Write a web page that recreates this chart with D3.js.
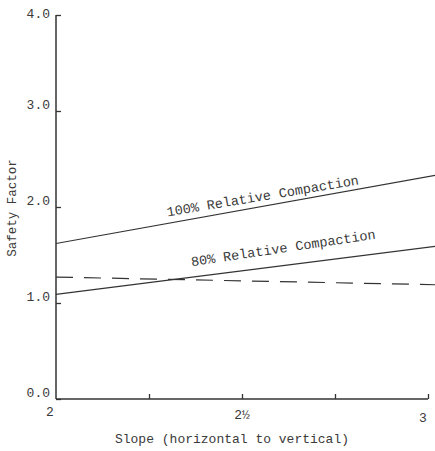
<!DOCTYPE html>
<html><head><meta charset="utf-8">
<script src="https://cdn.jsdelivr.net/npm/d3@7"></script>
<style>
body{margin:0;background:#fff;}
text{font-family:"Liberation Mono","DejaVu Sans Mono",monospace;fill:#3a3a3a;}
</style></head>
<body><svg id="c" width="435" height="451"></svg>
<script>
const slopes = [2.0, 3.02];
const compaction100 = [1.62, 2.33];
const compaction80 = [1.09, 1.59];
const requiredFS = [1.27, 1.19];
const yTicks = [0, 1, 2, 3, 4];
const yTickLabels = ["0.0", "1.0", "2.0", "3.0", "4.0"];
const xTicks = [2, 2.25, 2.5, 2.75, 3];
const xTickLabels = {2: "2", 2.5: "2½", 3: "3"};
const seriesLabels = ["100% Relative Compaction", "80% Relative Compaction"];

const svg = d3.select("#c");
const x = d3.scaleLinear().domain([2, 3]).range([56, 428]);
const y = d3.scaleLinear().domain([0, 4]).range([399, 15]);
const stroke = "#333";

// y axis
const yAxis = d3.axisRight(y).tickValues(yTicks).tickSize(5).tickFormat("");
const ga = svg.append("g").attr("transform", `translate(${x(2)},0)`).call(yAxis);
ga.select(".domain").attr("d", `M0,${y(4)}V${y(0)}`).attr("stroke", stroke).attr("stroke-width", 1.5);
ga.selectAll(".tick line").attr("stroke", stroke).attr("stroke-width", 1.3);
svg.append("g").selectAll("text").data(yTicks).join("text")
  .attr("x", 50).attr("y", d => y(d) - (d === 4 ? 1 : 6)).attr("text-anchor", "end")
  .attr("dominant-baseline", "central").attr("font-size", 13)
  .text((d, i) => yTickLabels[i]);

// x axis
const xAxis = d3.axisTop(x).tickValues(xTicks).tickSize(5).tickFormat("");
const gx = svg.append("g").attr("transform", `translate(0,${y(0)})`).call(xAxis);
gx.select(".domain").attr("d", `M${x(2)},0H${x(3)}`).attr("stroke", stroke).attr("stroke-width", 1.5);
gx.selectAll(".tick line").attr("stroke", stroke).attr("stroke-width", 1.3);
gx.selectAll(".tick").filter(d => d === 2).select("line").remove();
svg.append("g").selectAll("text").data(xTicks.filter(d => xTickLabels[d])).join("text")
  .attr("x", d => x(d) - (d === 2 ? 6 : d === 3 ? 5 : 0))
  .attr("y", d => y(0) + 17 + (d - 2) * 6)
  .attr("text-anchor", "middle").attr("font-size", 13)
  .text(d => xTickLabels[d]);

svg.append("text").attr("x", 232).attr("y", 443).attr("text-anchor", "middle")
  .attr("font-size", 13).text("Slope (horizontal to vertical)");
svg.append("text").attr("transform", "translate(13,208) rotate(-90)")
  .attr("text-anchor", "middle").attr("dominant-baseline", "central")
  .attr("font-size", 12.5).text("Safety Factor");

// lines
const line = d3.line().x((d, i) => x(slopes[i])).y(d => y(d));
svg.append("path").datum(compaction100).attr("d", line).attr("fill", "none")
  .attr("stroke", stroke).attr("stroke-width", 1.2);
svg.append("path").datum(compaction80).attr("d", line).attr("fill", "none")
  .attr("stroke", stroke).attr("stroke-width", 1.2);
svg.append("path").datum(requiredFS).attr("d", line).attr("fill", "none")
  .attr("stroke", stroke).attr("stroke-width", 1.2).attr("stroke-dasharray", "17,11");

// line labels
function lab(txt, sx, val, dy, ang) {
  svg.append("text")
    .attr("transform", `translate(${x(sx)},${y(val) + dy}) rotate(${ang})`)
    .attr("font-size", 13.5).text(txt);
}
const interp = (arr, s) => arr[0] + (arr[1] - arr[0]) * (s - slopes[0]) / (slopes[1] - slopes[0]);
lab(seriesLabels[0], 2.3, interp(compaction100, 2.3), -7, -9.5);
lab(seriesLabels[1], 2.365, interp(compaction80, 2.365), -11, -8.5);
</script></body></html>
